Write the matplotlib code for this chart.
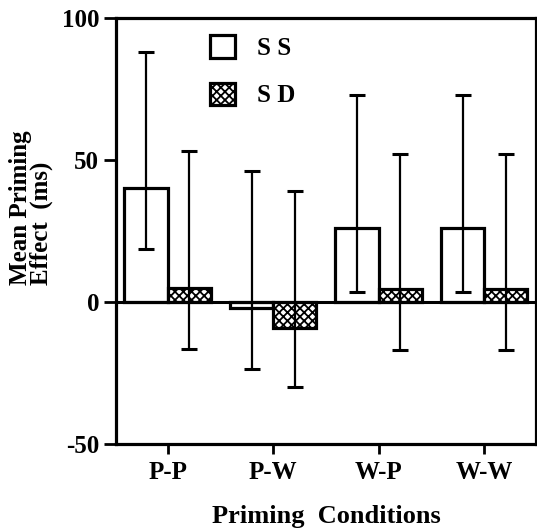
import matplotlib
matplotlib.use("Agg")
import matplotlib.pyplot as plt
import numpy as np
from matplotlib.patches import Patch

categories = ["P-P", "P-W", "W-P", "W-W"]
ss_mean = [40, -2, 26, 26]
ss_low = [18.5, -23.5, 3.5, 3.5]
ss_high = [88, 46, 73, 73]
sd_mean = [5, -9, 4.5, 4.5]
sd_low = [-16.5, -30, -17, -17]
sd_high = [53, 39, 52, 52]
yticks = [-50, 0, 50, 100]

plt.rcParams['font.family'] = ['Liberation Serif', 'DejaVu Serif']
plt.rcParams['font.weight'] = 'bold'
plt.rcParams['hatch.linewidth'] = 1.3

fig = plt.figure(figsize=(5.37, 5.32), dpi=100)
ax = fig.add_axes([0.216, 0.1654, 0.782, 0.8008])

x = np.arange(len(categories))
w = 0.41
xs = x - w / 2
xd = x + w / 2

ax.bar(xs, ss_mean, width=w, facecolor='white', edgecolor='black', linewidth=2.3, zorder=2)
ax.bar(xd, sd_mean, width=w, facecolor='white', edgecolor='black', linewidth=2.3, hatch='xxxx', zorder=2)

ss_err = [np.array(ss_mean) - np.array(ss_low), np.array(ss_high) - np.array(ss_mean)]
sd_err = [np.array(sd_mean) - np.array(sd_low), np.array(sd_high) - np.array(sd_mean)]
ax.errorbar(xs, ss_mean, yerr=ss_err, fmt='none', ecolor='black', elinewidth=1.6, capsize=6, capthick=2.2, zorder=3)
ax.errorbar(xd, sd_mean, yerr=sd_err, fmt='none', ecolor='black', elinewidth=1.6, capsize=6, capthick=2.2, zorder=3)

ax.axhline(0, color='black', linewidth=2.2, zorder=4)

ax.set_xlim(-0.49, 3.49)
ax.set_ylim(-50, 100)
ax.set_xticks(x)
ax.set_xticklabels(categories, fontsize=18, fontweight='bold')
ax.set_yticks(yticks)
ax.set_yticklabels([str(v) for v in yticks], fontsize=18, fontweight='bold')
ax.tick_params(axis='x', direction='out', length=7, width=2, pad=5)
ax.tick_params(axis='y', direction='out', length=9, width=2, pad=3)
for s in ax.spines.values():
    s.set_linewidth(2.3)

ax.set_xlabel("Priming  Conditions", fontsize=19, fontweight='bold', labelpad=15)
fig.text(0.058, 1 - 285 / 532, "Mean Priming\nEffect  (ms)", rotation=90,
         ha='center', va='bottom', multialignment='left', fontsize=18,
         fontweight='bold', linespacing=0.9)

handles = [Patch(facecolor='white', edgecolor='black', linewidth=2.3),
           Patch(facecolor='white', edgecolor='black', linewidth=2.3, hatch='xxxx')]
leg = ax.legend(handles, ["S S", "S D"], loc='upper left', bbox_to_anchor=(0.17, 1.012),
                frameon=False, handlelength=1.0, handleheight=1.0,
                handletextpad=0.9, labelspacing=0.9, prop={'weight': 'bold', 'size': 18})

fig.savefig("out.png", dpi=100)
